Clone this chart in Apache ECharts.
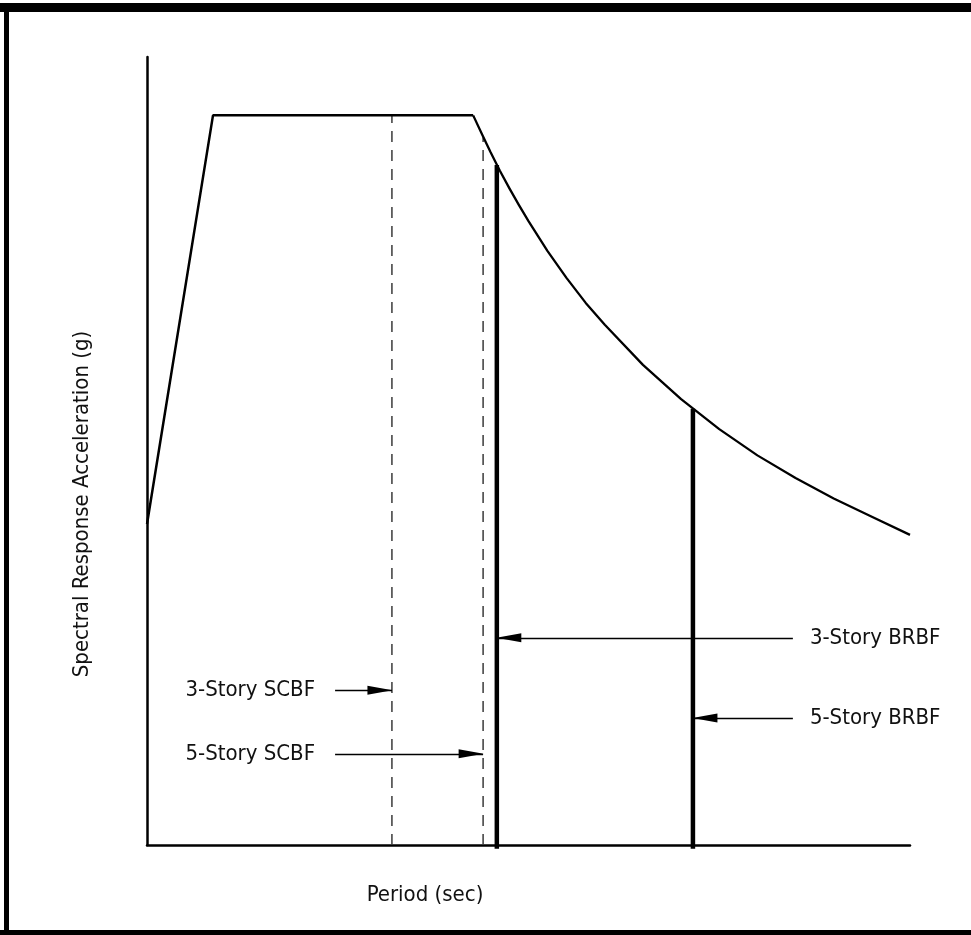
<!DOCTYPE html>
<html>
<head>
<meta charset="utf-8">
<script src="https://cdn.jsdelivr.net/npm/echarts@6/dist/echarts.min.js"></script>
<style>
  html, body { margin: 0; padding: 0; background: #fff; }
  #chart { width: 971px; height: 935px; }
</style>
</head>
<body>
<div id="chart"></div>
<script>
// design spectrum (period in sec, Sa in g)
var rampT = [0, 0.173, 0.855];
var rampSa = [0.44, 1.0, 1.0];
var decayT = [0.855, 0.88, 0.9, 0.925, 0.95, 0.975, 1.0, 1.05, 1.1, 1.15, 1.2, 1.3, 1.4, 1.5, 1.6, 1.7, 1.8, 1.9, 2.0];
var decaySa = [1.0, 0.972, 0.95, 0.924, 0.9, 0.877, 0.855, 0.814, 0.777, 0.743, 0.713, 0.658, 0.611, 0.57, 0.534, 0.503, 0.475, 0.45, 0.425];

// building periods
var systemNames = ['3-Story SCBF', '5-Story SCBF', '3-Story BRBF', '5-Story BRBF'];
var systemT = [0.642, 0.881, 0.917, 1.431];
var systemTopSa = [1.0, 0.97, 0.932, 0.598];
var arrowSa = [0.212, 0.125, 0.284, 0.174];
var arrowFromT = [0.493, 0.493, 1.693, 1.693];

var FONT = "'DejaVu Sans Condensed', 'Liberation Sans Narrow', sans-serif";

var myChart = echarts.init(document.getElementById('chart'));

function pairs(xs, ys) {
    return xs.map(function (x, i) { return [x, ys[i]]; });
}

var series = [{
    type: 'line',
    data: pairs(rampT, rampSa),
    symbol: 'none',
    lineStyle: { color: '#000', width: 2.5 }
}, {
    type: 'line',
    data: pairs(decayT, decaySa),
    symbol: 'none',
    lineStyle: { color: '#000', width: 2.3, join: 'round' }
}];

systemNames.forEach(function (name, i) {
    var braced = name.indexOf('BRBF') >= 0;
    series.push({
        type: 'line',
        clip: false,
        symbol: 'none',
        data: [[systemT[i], braced ? -0.005 : 0], [systemT[i], systemTopSa[i]]],
        lineStyle: braced
            ? { color: '#000', width: 4.5 }
            : { color: '#3a3a3a', width: 1.5, type: [11, 8] },
        z: braced ? 3 : 2
    });
});

// arrows + labels
series.push({
    type: 'line',
    data: [],
    markLine: {
        silent: true,
        animation: false,
        symbol: ['none', 'triangle'],
        symbolSize: [9, 25],
        symbolOffset: [[0, 0], [0, 12]],
        lineStyle: { color: '#000', width: 1.3, type: 'solid' },
        label: {
            show: true,
            position: 'start',
            fontFamily: FONT,
            fontSize: 22,
            color: '#111',
            formatter: '{b}'
        },
        data: systemNames.map(function (name, i) {
            var left = arrowFromT[i] < systemT[i];
            return [
                { name: name, coord: [arrowFromT[i], arrowSa[i]], label: { distance: left ? 20 : 17 } },
                { coord: [systemT[i], arrowSa[i]] }
            ];
        })
    }
});

var option = {
    animation: false,
    grid: { left: 147, right: 61, top: 57, bottom: 90 },
    xAxis: {
        type: 'value', min: 0, max: 2,
        axisLine: { lineStyle: { color: '#000', width: 2.5 } },
        axisTick: { show: false }, axisLabel: { show: false }, splitLine: { show: false }
    },
    yAxis: {
        type: 'value', min: 0, max: 1.08,
        axisLine: { show: true, lineStyle: { color: '#000', width: 2.5 } },
        axisTick: { show: false }, axisLabel: { show: false }, splitLine: { show: false }
    },
    graphic: [
        { type: 'rect', shape: { x: 0, y: 3, width: 971, height: 9 }, style: { fill: '#000' } },
        { type: 'rect', shape: { x: 4, y: 3, width: 5, height: 932 }, style: { fill: '#000' } },
        { type: 'rect', shape: { x: 0, y: 930, width: 971, height: 5 }, style: { fill: '#000' } },
        {
            type: 'text', x: 425, y: 895,
            style: { text: 'Period (sec)', font: '22px ' + FONT, fill: '#111', align: 'center', verticalAlign: 'middle' }
        },
        {
            type: 'text', x: 82, y: 504, rotation: Math.PI / 2,
            style: { text: 'Spectral Response Acceleration (g)', font: '22px ' + FONT, fill: '#111', align: 'center', verticalAlign: 'middle' }
        }
    ],
    series: series
};

myChart.setOption(option);
window.addEventListener('resize', function () {
    myChart.resize();
});
</script>
</body>
</html>
